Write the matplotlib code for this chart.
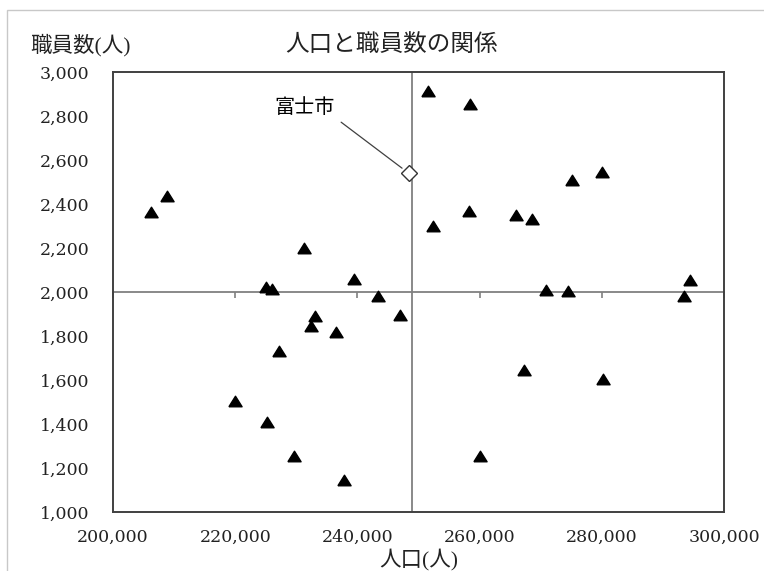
import matplotlib
matplotlib.use("Agg")
import matplotlib.pyplot as plt
from matplotlib.patches import Rectangle
from matplotlib.ticker import FuncFormatter, MultipleLocator

plt.rcParams['font.family'] = ['Liberation Serif', 'Noto Sans CJK JP']

# 人口(人) と 職員数(人)
population = [206300, 208900, 231300, 225000, 226000, 239500, 243300, 233100,
              232400, 236500, 227100, 220000, 225200, 229600, 237800, 247000,
              251500, 258500, 275200, 280000, 252400, 258200, 266000, 268600,
              294400, 270800, 274500, 293500, 267300, 280200, 260100]
staff = [2362, 2438, 2198, 2025, 2015, 2059, 1983, 1891,
         1845, 1817, 1733, 1506, 1411, 1255, 1145, 1895,
         2913, 2855, 2509, 2545, 2300, 2368, 2350, 2332,
         2054, 2009, 2005, 1982, 1645, 1603, 1256]

fuji_name = "富士市"
fuji_pop = 248400
fuji_staff = 2540

# 軸の交差位置
cross_x = 249000
cross_y = 2000

xlim = (200000, 300000)
ylim = (1000, 3000)

fig = plt.figure(figsize=(7.64, 5.71), dpi=100, facecolor='w')
ax = fig.add_axes([0.1479, 0.1033, 0.7997, 0.7706])

# 外枠
fig.patches.append(Rectangle((7 / 764, -0.1), 2.0, 1.1 - 10 / 571, transform=fig.transFigure,
                             fill=False, edgecolor='#c8c8c8', linewidth=1.0))

tri = [(-1.0, -0.8), (1.0, -0.8), (0.0, 0.8), (-1.0, -0.8)]
ax.plot(population, staff, linestyle='none', marker=tri, markersize=9.5,
        color='black', zorder=3)
ax.plot([fuji_pop], [fuji_staff], linestyle='none', marker='D', markersize=8.5,
        markerfacecolor='white', markeredgecolor='#333333', markeredgewidth=1.0, zorder=4)

ax.annotate(fuji_name, xy=(fuji_pop, fuji_staff), xytext=(231400, 2836),
            ha='center', va='center', fontsize=14.5,
            arrowprops=dict(arrowstyle='-', color='#404040', linewidth=0.9,
                            relpos=(1.0, 0.0), shrinkA=3, shrinkB=6))

ax.set_xlim(*xlim)
ax.set_ylim(*ylim)
ax.xaxis.set_major_locator(MultipleLocator(20000))
ax.yaxis.set_major_locator(MultipleLocator(200))
fmt = FuncFormatter(lambda v, p: f"{int(v):,}")
ax.xaxis.set_major_formatter(fmt)
ax.yaxis.set_major_formatter(fmt)
ax.tick_params(axis='both', length=0, labelsize=12.5, colors='#222222')
ax.tick_params(axis='y', pad=17)
ax.tick_params(axis='x', pad=12)
for lab in ax.get_xticklabels() + ax.get_yticklabels():
    lab.set_family('DejaVu Serif')

for s in ax.spines.values():
    s.set_color('#404040')
    s.set_linewidth(1.4)

# 交差する軸線
ax.axvline(cross_x, color='#808080', linewidth=1.3, zorder=1)
sec = ax.secondary_xaxis((cross_y - ylim[0]) / (ylim[1] - ylim[0]))
sec.set_alignment('bottom')
sec.xaxis.set_major_locator(MultipleLocator(20000))
sec.tick_params(axis='x', length=4, width=1.2, color='#808080', labelbottom=False,
                labeltop=False, direction='out')
sec.spines['bottom'].set_color('#808080')
sec.spines['bottom'].set_linewidth(1.3)

fig.text(0.512, 0.921, "人口と職員数の関係", ha='center', va='center', fontsize=17,
         color='#222222')
fig.text(30 / 764, 0.921, "職員数(人)", ha='left', va='center', fontsize=15.5,
         color='#222222')
ax.set_xlabel("人口(人)", fontsize=15.5, color='#222222')
ax.xaxis.set_label_coords(0.5, -0.109)
ax.xaxis.label.set_va('center')

fig.savefig("out.png", dpi=100, facecolor='w')
